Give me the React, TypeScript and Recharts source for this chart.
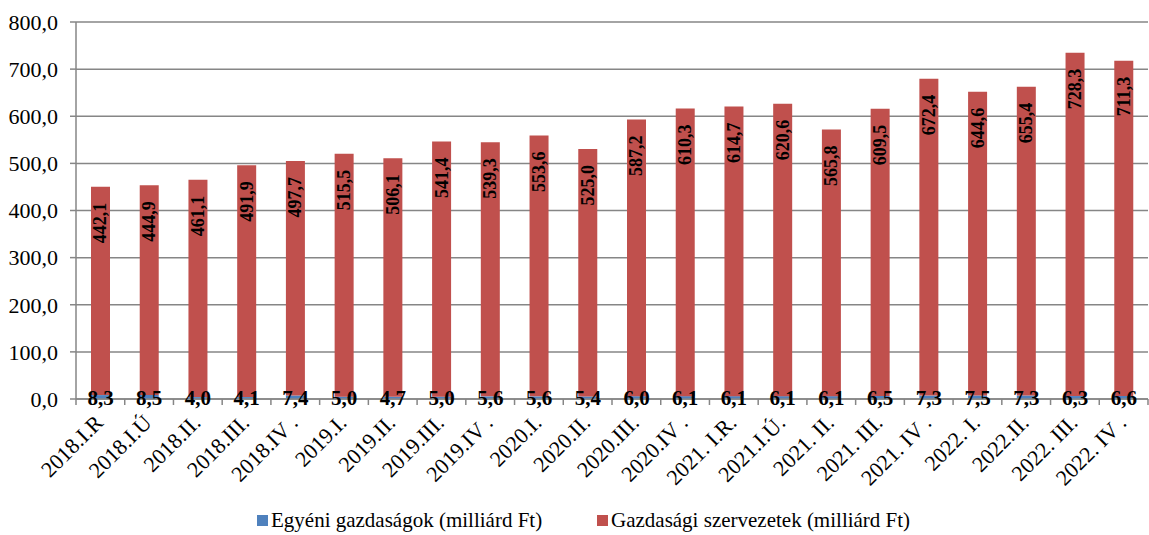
import { Bar, BarChart, CartesianGrid, LabelList, Legend, XAxis, YAxis } from "recharts";

const categories = [
  "2018.I.R", "2018.I.Ú", "2018.II.", "2018.III.", "2018.IV .", "2019.I.", "2019.II.", "2019.III.",
  "2019.IV .", "2020.I.", "2020.II.", "2020.III.", "2020.IV .", "2021. I.R.", "2021.I.Ú.", "2021. II.",
  "2021. III.", "2021. IV .", "2022. I.", "2022.II.", "2022. III.", "2022. IV .",
];
const egyeni = [8.3, 8.5, 4.0, 4.1, 7.4, 5.0, 4.7, 5.0, 5.6, 5.6, 5.4, 6.0, 6.1, 6.1, 6.1, 6.1, 6.5, 7.3, 7.5, 7.3, 6.3, 6.6];
const szervezetek = [
  442.1, 444.9, 461.1, 491.9, 497.7, 515.5, 506.1, 541.4, 539.3, 553.6, 525.0, 587.2, 610.3, 614.7, 620.6, 565.8,
  609.5, 672.4, 644.6, 655.4, 728.3, 711.3,
];
const yTicks = [0, 100, 200, 300, 400, 500, 600, 700, 800];

const data = categories.map((name, i) => ({ name, egyeni: egyeni[i], szervezetek: szervezetek[i] }));

const FONT = "Liberation Serif, DejaVu Serif, serif";
const BLUE = "#4F81BD";
const RED = "#C0504D";
const GRID = "#868686";

const fmt = (v: number) => v.toFixed(1).replace(".", ",");

function CategoryTick(props: any) {
  const { x, y, payload, width } = props;
  const step = width / categories.length;
  const half = step / 2;
  const isLast = payload.index === categories.length - 1;
  return (
    <g>
      <line x1={x - half} x2={x - half} y1={y - 8} y2={y - 2} stroke={GRID} strokeWidth={1.5} />
      {isLast && <line x1={x + half} x2={x + half} y1={y - 8} y2={y - 2} stroke={GRID} strokeWidth={1.5} />}
      <text
        x={x + 4}
        y={y + 17}
        transform={`rotate(-45 ${x + 4} ${y + 17})`}
        textAnchor="end"
        style={{ fontFamily: FONT, fontSize: 22 }}
        fill="#000"
      >
        {payload.value}
      </text>
    </g>
  );
}

function RedLabel(props: any) {
  const { x, y, width, value } = props;
  const cx = x + width / 2;
  const ty = y + 16;
  return (
    <text
      x={cx}
      y={ty}
      transform={`rotate(-90 ${cx} ${ty})`}
      textAnchor="end"
      dominantBaseline="central"
      style={{ fontFamily: FONT, fontSize: 18, fontWeight: "bold" }}
      fill="#000"
    >
      {fmt(value)}
    </text>
  );
}

function BlueLabel(props: any) {
  const { x, y, width, height, value } = props;
  return (
    <text
      x={x + width / 2}
      y={y + height - 1}
      textAnchor="middle"
      dominantBaseline="central"
      style={{ fontFamily: FONT, fontSize: 21, fontWeight: "bold" }}
      fill="#000"
    >
      {fmt(value)}
    </text>
  );
}

function LegendContent() {
  const item = (left: number, color: string, label: string) => (
    <div style={{ position: "absolute", left, top: 3, display: "flex", alignItems: "center" }}>
      <span style={{ width: 11, height: 11, background: color, marginRight: 3, display: "inline-block" }} />
      <span style={{ fontFamily: FONT, fontSize: 21, color: "#000", whiteSpace: "nowrap" }}>{label}</span>
    </div>
  );
  return (
    <div style={{ position: "relative", width: 1149, height: 30 }}>
      {item(257, BLUE, "Egyéni gazdaságok (milliárd Ft)")}
      {item(597, RED, "Gazdasági szervezetek (milliárd Ft)")}
    </div>
  );
}

export default function App() {
  return (
    <div style={{ width: 1149, height: 535, position: "absolute", left: 0, top: 0, background: "#fff" }}>
      <style>{"body{margin:0}"}</style>
      <BarChart
        width={1149}
        height={535}
        data={data}
        margin={{ top: 22, right: 1, bottom: 0, left: 0 }}
        barSize={19}
      >
        <CartesianGrid vertical={false} stroke={GRID} strokeWidth={1.5} />
        <XAxis
          dataKey="name"
          interval={0}
          height={106}
          tickLine={false}
          axisLine={{ stroke: GRID, strokeWidth: 1.5 }}
          tick={<CategoryTick />}
        />
        <YAxis
          width={76}
          domain={[0, 800]}
          ticks={yTicks}
          tickFormatter={fmt}
          tickSize={6}
          tickMargin={12}
          tickLine={{ stroke: GRID, strokeWidth: 1.5 }}
          axisLine={{ stroke: GRID, strokeWidth: 1.5 }}
          tick={{ fill: "#000", style: { fontFamily: FONT, fontSize: 22 } }}
        />
        <Legend verticalAlign="bottom" wrapperStyle={{ left: 0, width: 1149 }} content={<LegendContent />} />
        <Bar dataKey="egyeni" stackId="a" fill={BLUE} isAnimationActive={false}>
          <LabelList dataKey="egyeni" content={<BlueLabel />} />
        </Bar>
        <Bar dataKey="szervezetek" stackId="a" fill={RED} isAnimationActive={false}>
          <LabelList dataKey="szervezetek" content={<RedLabel />} />
        </Bar>
      </BarChart>
    </div>
  );
}
